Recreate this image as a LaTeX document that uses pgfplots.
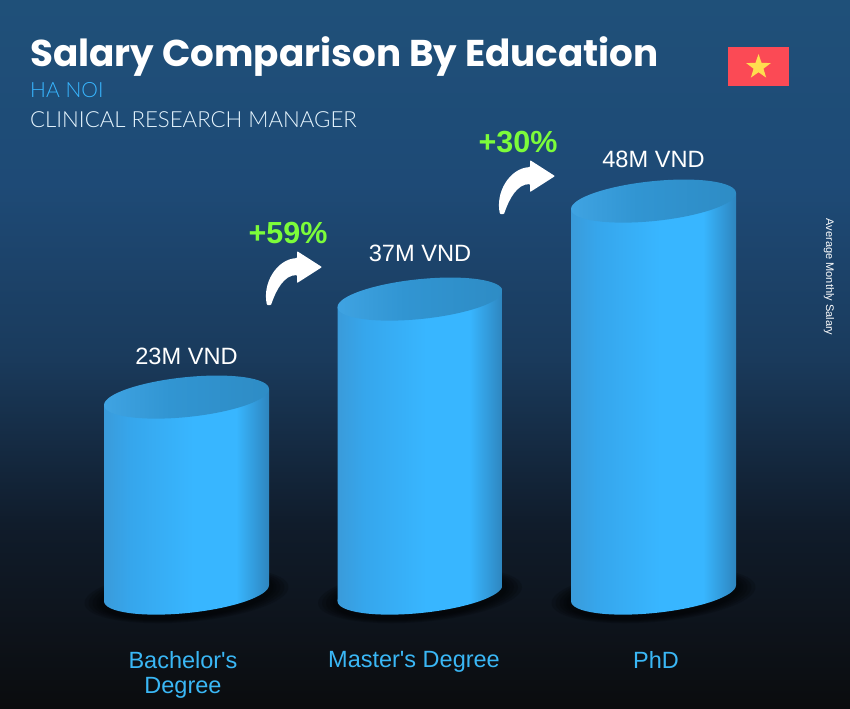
\documentclass[border=0pt]{standalone}
\usepackage{fontspec}
\setmainfont{Liberation Sans}
\newfontfamily\plainf{Liberation Sans}
\newfontfamily\titlef{Poppins}[UprightFont=* SemiBold,BoldFont=* Bold]
\newfontfamily\lightf{Lato}[UprightFont=* Light]
\usepackage{pgfplots}
\usepackage{pgfplotstable}
\pgfplotsset{compat=1.18}
\usetikzlibrary{shapes.geometric}
\definecolor{skyb}{HTML}{38B6FF}
\definecolor{lab}{HTML}{3AB7F5}
\definecolor{grn}{HTML}{7CFC3A}
\definecolor{cyl0}{HTML}{3A9BDA}
\definecolor{cyl1}{HTML}{36A6EC}
\definecolor{cyl2}{HTML}{38B6FF}
\definecolor{cyl3}{HTML}{2E85BE}
\definecolor{t0}{HTML}{3FA3E2}
\definecolor{t1}{HTML}{3195D2}
\definecolor{t2}{HTML}{2E8CC5}
\definecolor{b0}{HTML}{0B0C0E}
\definecolor{b1}{HTML}{101C2B}
\definecolor{b2}{HTML}{1A3B5D}
\definecolor{b3}{HTML}{1E4A76}
\definecolor{b4}{HTML}{1F5079}
\pgfdeclarehorizontalshading{cyl}{100bp}{
 color(0bp)=(cyl0);color(25bp)=(cyl0);color(33bp)=(cyl1);color(52bp)=(cyl2);color(65bp)=(cyl2);color(75bp)=(cyl3);color(100bp)=(cyl3)}
\pgfdeclarehorizontalshading{cyltop}{100bp}{
 color(0bp)=(t0);color(25bp)=(t0);color(45bp)=(t1);color(75bp)=(t2);color(100bp)=(t2)}
\pgfdeclareverticalshading{bgshade}{100bp}{
 color(0bp)=(b0);color(25bp)=(b0);color(38bp)=(b1);color(50bp)=(b2);color(62bp)=(b3);color(75bp)=(b4);color(100bp)=(b4)}
\def\cylell{\pgfpathellipse{\pgfpointorigin}{\pgfqpoint{82.5pt}{8pt}}{\pgfqpoint{0pt}{20pt}}}
\pgfdeclareplotmark{cyltopmark}{\cylell\pgfshadepath{cyltop}{0}\pgfusepath{discard}}
\pgfdeclareplotmark{cylbotmark}{\cylell\pgfshadepath{cyl}{0}\pgfusepath{discard}}
\pgfdeclareplotmark{cylshadow}{%
 \pgfsetfillopacity{0.16}\pgfsetfillcolor{black}%
 \foreach \r/\h in {102/27,98/26,94/25,90/24,87/23}{%
  \pgfpathellipse{\pgfqpoint{0pt}{-2pt}}{\pgfqpoint{\r pt}{8pt}}{\pgfqpoint{0pt}{\h pt}}\pgfusepath{fill}}}
\pgfplotstableread{
x top value off
186.5 196 23 41
420 294 37 46
653.5 392 48 42
}\bars
\newcommand{\curvedarrow}[2]{%
 \fill[white,rounded corners=0.8pt,shift={(#1,#2)}] (267,403) .. controls (262,425) and (277,449) .. (297,450)
  -- (297,457) -- (322,441) -- (297,425) -- (297,433)
  .. controls (284,433) and (276,418) .. (271,403) -- cycle;}
\begin{document}
\begin{tikzpicture}[x=1pt,y=1pt]
\begin{axis}[
 at={(0pt,0pt)},anchor=south west,scale only axis,width=850pt,height=708pt,
 xmin=0,xmax=850,ymin=-115,ymax=593,
 clip=true,clip mode=individual,
 axis line style={draw=none},
 major tick length=0pt,
 ytick=\empty,
 xtick={183,414,656},
 xticklabels={Bachelor's\\Degree,Master's Degree,PhD},
 xticklabel style={align=center,font=\plainf\fontsize{23.5}{25}\selectfont,text=lab,yshift=60pt},
 axis background/.style={shade,shading=bgshade},
]
\addplot[only marks,mark=cylshadow] table[x=x,y expr=0]{\bars};
\addplot[only marks,mark=cylbotmark] table[x=x,y expr=0]{\bars};
\addplot[draw=none,shade,shading=cyl] coordinates {(104,-8)(269,8)(269,204)(104,188)} -- cycle;
\addplot[draw=none,shade,shading=cyl] coordinates {(337.5,-8)(502.5,8)(502.5,302)(337.5,286)} -- cycle;
\addplot[draw=none,shade,shading=cyl] coordinates {(571,-8)(736,8)(736,400)(571,384)} -- cycle;
\addplot[only marks,mark=cyltopmark,
 point meta=explicit,
 visualization depends on={\thisrow{off}\as\laboff},
 nodes near coords={\pgfmathprintnumber[assume math mode=true]{\pgfplotspointmeta}M VND},
 every node near coord/.append style={anchor=center,yshift=\laboff pt,text=white,font=\fontsize{23.6}{25}\selectfont},
] table[x=x,y=top,meta=value]{\bars};
\end{axis}
\node[anchor=base west,inner sep=0,text=white,font=\titlef\bfseries\fontsize{37.3}{40}\selectfont] at (30,642) {Salary Comparison By Education};
\node[anchor=base west,inner sep=0,text=skyb,font=\lightf\fontsize{21}{24}\selectfont] at (30,611) {HA NOI};
\node[anchor=base west,inner sep=0,text=white!88!skyb,font=\lightf\fontsize{22.2}{24}\selectfont] at (30,581) {CLINICAL RESEARCH MANAGER};
\node[rotate=-90,inner sep=0,text=white,font=\fontsize{11}{12}\selectfont] at (829,431) {Average Monthly Salary};
\node[text=grn,inner sep=0,font=\bfseries\fontsize{30.5}{32}\selectfont] at (288,475) {+59\%};
\node[text=grn,inner sep=0,font=\bfseries\fontsize{30.5}{32}\selectfont] at (518,566) {+30\%};
\curvedarrow{0}{0}
\curvedarrow{233}{91}
\definecolor{flagr}{HTML}{FB4A55}
\definecolor{flagy}{HTML}{FFDD4F}
\fill[flagr] (728,622) rectangle (789,661);
\node[star,star points=5,star point ratio=2.5,fill=flagy,inner sep=0,minimum size=26pt] at (758.5,641) {};
\end{tikzpicture}
\end{document}
